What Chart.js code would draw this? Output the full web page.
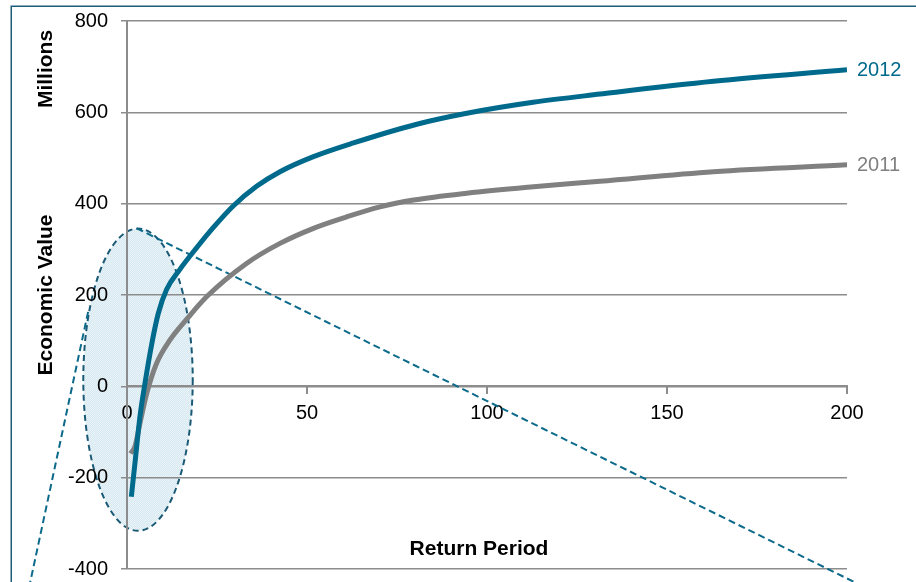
<!DOCTYPE html>
<html>
<head>
<meta charset="utf-8">
<script src="https://cdn.jsdelivr.net/npm/chart.js@4/dist/chart.umd.min.js"></script>
<style>
  html, body { margin: 0; padding: 0; background: #ffffff; overflow: hidden; }
  #wrap { width: 916px; height: 582px; position: relative; }
</style>
</head>
<body>
<div id="wrap"><canvas id="chart" width="916" height="582"></canvas></div>
<script>
// Return period (years) and economic value (millions) for each year's curve
const returnPeriods2012 = [1.2, 2.2, 3.6, 5, 6.9, 8.7, 11, 14.5, 19.4, 24, 29.5, 36, 42.5, 51.8, 62.9, 80.5, 94.4, 112.8, 131.4, 162.9, 200];
const values2012 = [-242, -169, -66, 7, 94, 160, 212, 254, 304, 348, 395, 438, 470, 503, 533, 574, 598, 622, 640, 668, 693];

const returnPeriods2011 = [1, 2.2, 3.6, 5.5, 8.2, 11.9, 16.6, 22.1, 33.2, 42.5, 51.8, 61, 70.3, 79.6, 94.4, 112.9, 131.4, 162.9, 200];
const values2011 = [-147, -132, -81, -15, 50, 101, 147, 196, 269, 313, 346, 371, 393, 408, 423, 437, 449, 470, 485];

const seriesNames = ['2012', '2011'];
const xTickValues = [0, 50, 100, 150, 200];
const yTickValues = [-400, -200, 0, 200, 400, 600, 800];

// Highlight around the short return periods (data units) and its two callout lines
const focusEllipse = { cx: 3.06, cy: 14.5, rx: 15.2, ry: 331 };
const calloutLines = [
  [{ x: 2.7, y: 346 }, { x: 206, y: -444 }],
  [{ x: -10.8, y: 163 }, { x: -28, y: -470 }]
];

const TEAL = '#006a8c';
const GREY = '#808080';
const GRID = '#8c8c8c';
const FONT = '"Liberation Sans", Arial, sans-serif';

const toPoints = (xs, ys) => xs.map((x, i) => ({ x: x, y: ys[i] }));

function dotPattern(ctx) {
  const c = document.createElement('canvas');
  c.width = 2; c.height = 2;
  const p = c.getContext('2d');
  p.fillStyle = 'rgba(200,225,236,0.75)';
  p.fillRect(0, 0, 2, 2);
  p.fillStyle = 'rgba(240,247,250,0.75)';
  p.fillRect(0, 0, 1, 1);
  p.fillRect(1, 1, 1, 1);
  return ctx.createPattern(c, 'repeat');
}

const decorations = {
  id: 'decorations',
  beforeDraw(chart) {
    const ctx = chart.ctx;
    const xs = chart.scales.x, ys = chart.scales.y;
    ctx.save();
    // outer frame
    ctx.strokeStyle = '#1d5d79';
    ctx.lineWidth = 1.5;
    ctx.strokeRect(11.25, 6.25, 2000, 2000);

    // highlighted region
    const cx = xs.getPixelForValue(focusEllipse.cx);
    const cy = ys.getPixelForValue(focusEllipse.cy);
    const rx = Math.abs(xs.getPixelForValue(focusEllipse.cx + focusEllipse.rx) - cx);
    const ry = Math.abs(ys.getPixelForValue(focusEllipse.cy + focusEllipse.ry) - cy);
    ctx.beginPath();
    ctx.ellipse(cx, cy, rx, ry, 0, 0, Math.PI * 2);
    ctx.fillStyle = dotPattern(ctx);
    ctx.fill();
    ctx.setLineDash([6, 4]);
    ctx.lineWidth = 2;
    ctx.strokeStyle = '#1b5a76';
    ctx.stroke();
    ctx.restore();
  },
  beforeDatasetsDraw(chart) {
    const ctx = chart.ctx;
    const xs = chart.scales.x, ys = chart.scales.y;
    ctx.save();
    ctx.setLineDash([7, 4]);
    ctx.lineWidth = 2;
    ctx.strokeStyle = '#0c6a8a';
    calloutLines.forEach(([a, b]) => {
      ctx.beginPath();
      ctx.moveTo(xs.getPixelForValue(a.x), ys.getPixelForValue(a.y));
      ctx.lineTo(xs.getPixelForValue(b.x), ys.getPixelForValue(b.y));
      ctx.stroke();
    });
    ctx.restore();
  },
  afterDatasetsDraw(chart) {
    const ctx = chart.ctx;
    const area = chart.chartArea;
    ctx.save();
    // series names at the end of each curve
    ctx.font = '20px ' + FONT;
    ctx.textAlign = 'left';
    ctx.textBaseline = 'middle';
    chart.data.datasets.forEach((ds, i) => {
      const meta = chart.getDatasetMeta(i);
      const last = meta.data[meta.data.length - 1];
      ctx.fillStyle = ds.borderColor;
      ctx.fillText(ds.label, last.x + 10, last.y + 1);
    });
    // units and x-axis title
    ctx.fillStyle = '#000';
    ctx.font = 'bold 21px ' + FONT;
    ctx.textAlign = 'center';
    ctx.fillText('Return Period', (area.left + area.right) / 2 - 8, 549);
    ctx.translate(46, 69);
    ctx.rotate(-Math.PI / 2);
    ctx.fillText('Millions', 0, 0);
    ctx.restore();
  }
};

new Chart(document.getElementById('chart'), {
  type: 'scatter',
  data: {
    datasets: [
      {
        label: seriesNames[0],
        data: toPoints(returnPeriods2012, values2012),
        showLine: true,
        borderColor: TEAL,
        borderWidth: 5,
        borderCapStyle: 'butt',
        cubicInterpolationMode: 'monotone',
        pointRadius: 0,
        fill: false
      },
      {
        label: seriesNames[1],
        data: toPoints(returnPeriods2011, values2011),
        showLine: true,
        borderColor: GREY,
        borderWidth: 5,
        borderCapStyle: 'butt',
        cubicInterpolationMode: 'monotone',
        pointRadius: 0,
        fill: false
      }
    ]
  },
  options: {
    responsive: false,
    devicePixelRatio: 1,
    animation: false,
    layout: { padding: { left: 0, right: 69, top: 21, bottom: 13 } },
    plugins: { legend: { display: false }, tooltip: { enabled: false } },
    scales: {
      x: {
        type: 'linear',
        position: { y: 0 },
        min: 0,
        max: 200,
        afterBuildTicks: s => { s.ticks = xTickValues.map(v => ({ value: v })); },
        ticks: { color: '#000', font: { size: 20, family: FONT }, padding: 8, maxRotation: 0 },
        grid: { drawOnChartArea: false, drawTicks: true, tickLength: 7, color: GRID, lineWidth: 2 },
        border: { color: GRID, width: 2 }
      },
      y: {
        type: 'linear',
        min: -400,
        max: 800,
        afterBuildTicks: s => { s.ticks = yTickValues.map(v => ({ value: v })); },
        afterFit: s => { s.width = 127; s.paddingTop = 0; s.paddingBottom = 0; },
        ticks: { color: '#000', font: { size: 20, family: FONT }, padding: 13 },
        grid: { color: GRID, lineWidth: 1.5, drawTicks: true, tickLength: 6 },
        border: { color: GRID, width: 2 },
        title: {
          display: true,
          text: 'Economic Value',
          color: '#000',
          font: { size: 21, weight: 'bold', family: FONT },
          padding: { top: 34, bottom: 0 }
        }
      }
    }
  },
  plugins: [decorations]
});
</script>
</body>
</html>
